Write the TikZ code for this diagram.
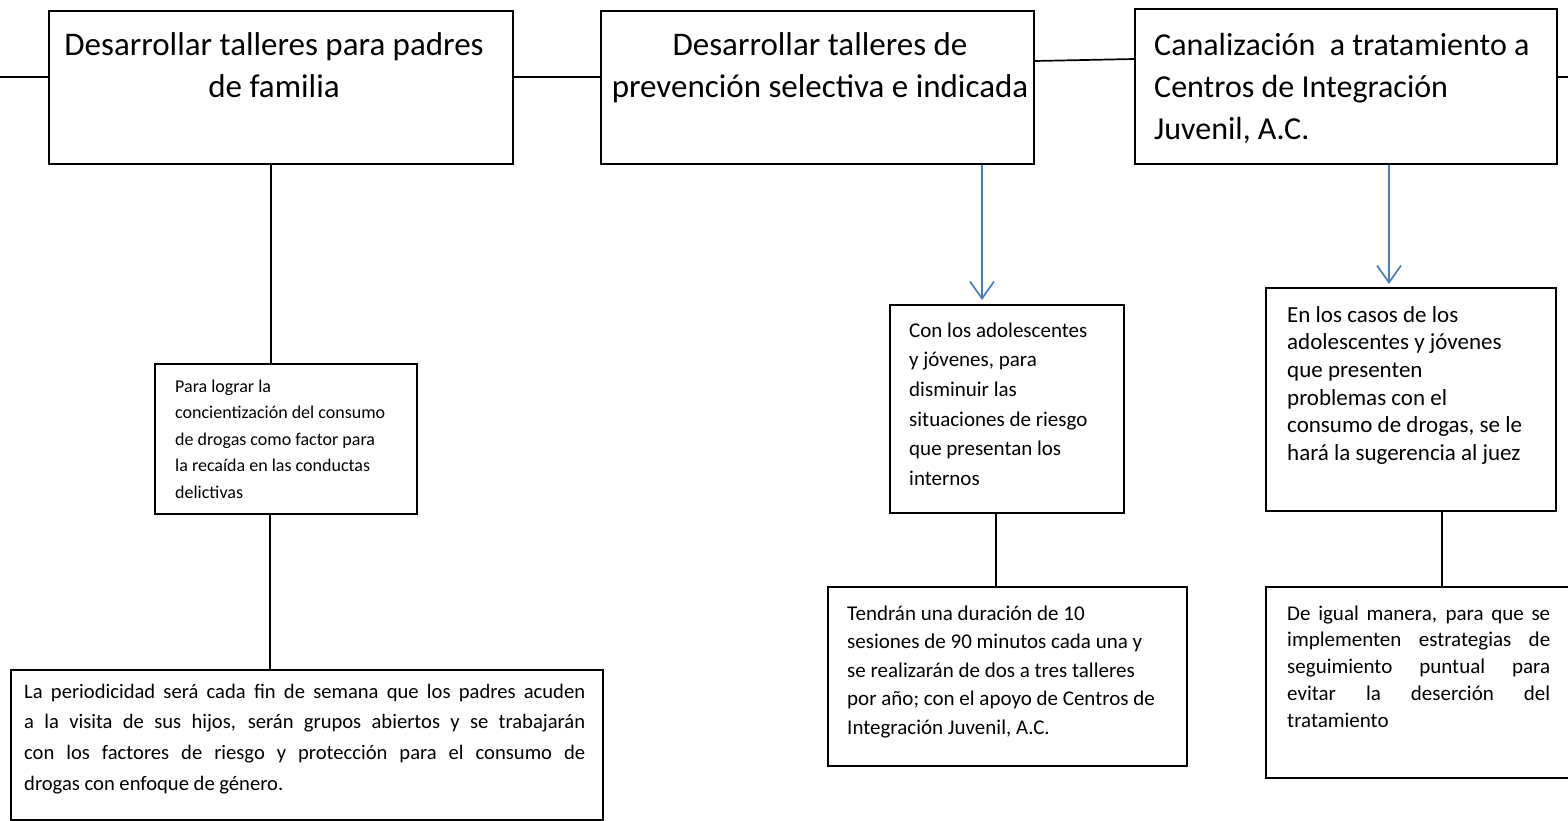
\documentclass[tikz,border=0pt]{standalone}
\usepackage{fontspec}
\setmainfont{Carlito}
\usetikzlibrary{arrows.meta}
\definecolor{arrowblue}{RGB}{74,126,187}
\begin{document}
\begin{tikzpicture}[x=1pt,y=-1pt,
  boxnode/.style={draw=black, line width=1.7pt, rectangle, inner sep=0pt, anchor=north west},
  conn/.style={draw=black, line width=1.7pt},
  thickconn/.style={draw=black, line width=2.6pt},
  blueconn/.style={draw=arrowblue, line width=1.7pt, -{Straight Barb[length=17pt,width=24pt,line width=1.7pt]}},
  txt/.style={inner sep=0pt, anchor=base west, align=flush left},
  titletxt/.style={inner sep=0pt, font={\fontsize{32}{42}\selectfont}},
  bigtitletxt/.style={inner sep=0pt, font={\fontsize{33}{42}\selectfont}},
]
\useasboundingbox (0,0) rectangle (1568,820);
\clip (0,0) rectangle (1568,820);

% top boxes
\node[boxnode, minimum width=464, minimum height=153] (A) at (48,10) {};
\node[boxnode, minimum width=433, minimum height=153] (B) at (600,10) {};
\node[boxnode, minimum width=422, minimum height=155] (C) at (1134,8) {};

\node[bigtitletxt, anchor=base, text width=455, align=flush center] (tA) at (274,55)
  {Desarrollar talleres para padres\\de familia};
\node[bigtitletxt, anchor=base, text width=430, align=flush center] (tB) at (820,55)
  {Desarrollar talleres de\\prevención selectiva e indicada};
\node[titletxt, anchor=base west, text width=395, align=flush left] (tC) at (1154,55)
  {Canalización\ \ a tratamiento a\\Centros de Integración\\Juvenil, A.C.};

% lower boxes
\node[boxnode, minimum width=262, minimum height=150] (D) at (154,363) {};
\node[boxnode, minimum width=592, minimum height=150] (E) at (10,669) {};
\node[boxnode, minimum width=234, minimum height=208] (F) at (889,304) {};
\node[boxnode, minimum width=359, minimum height=179] (G) at (827,586) {};
\node[boxnode, minimum width=290, minimum height=223] (H) at (1265,287) {};
\node[boxnode, minimum width=312, minimum height=191] (I) at (1265,586) {};

\node[txt, text width=235, font={\fontsize{18}{26.5}\selectfont}] (tD) at (175,392)
  {Para lograr la\\concientización del consumo\\de drogas como factor para\\la recaída en las conductas\\delictivas};
\node[txt, text width=561, align=justify, font={\fontsize{20.6}{30.8}\selectfont}] (tE) at (24,698)
  {La periodicidad será cada fin de semana que los padres acuden\linebreak
   a la visita de sus hijos, serán grupos abiertos y se trabajarán\linebreak
   con los factores de riesgo y protección para el consumo de\linebreak
   drogas con enfoque de género.};
\node[txt, text width=210, font={\fontsize{21}{29.7}\selectfont}] (tF) at (909,337)
  {Con los adolescentes\\y jóvenes, para\\disminuir las\\situaciones de riesgo\\que presentan los\\internos};
\node[txt, text width=335, font={\fontsize{21}{28.6}\selectfont}] (tG) at (847,620)
  {Tendrán una duración de 10\\sesiones de 90 minutos cada una y\\se realizarán de dos a tres talleres\\por año; con el apoyo de Centros de\\Integración Juvenil, A.C.};
\node[txt, text width=265, font={\fontsize{23}{27.7}\selectfont}] (tH) at (1287,322)
  {En los casos de los\\adolescentes y jóvenes\\que presenten\\problemas con el\\consumo de drogas, se le\\hará la sugerencia al juez};
\node[txt, text width=263, align=justify, font={\fontsize{21}{26.8}\selectfont}] (tI) at (1287,620)
  {De igual manera, para que se\linebreak
   implementen estrategias de\linebreak
   seguimiento puntual para\linebreak
   evitar la deserción del\linebreak
   tratamiento};

% horizontal connectors
\coordinate (leftend) at (0,77);
\coordinate (rightend) at (1568,77);
\draw[conn] (leftend) -- (leftend -| A.west);
\draw[conn] (A.east |- leftend) -- (B.west |- leftend);
\draw[conn] (B.east |- 0,61) -- (C.west |- 0,59);
\draw[conn] (C.east |- rightend) -- (rightend);

% vertical connectors
\coordinate (amid) at (271,252);
\draw[thickconn] (A.south -| amid) -- (amid);
\draw[conn] (amid) -- (D.north -| amid);
\draw[conn] (D.south -| 270,0) -- (E.north -| 270,0);
\draw[conn] (F.south -| 996,0) -- (G.north -| 996,0);
\draw[conn] (H.south -| 1442,0) -- (I.north -| 1442,0);

% blue arrows
\coordinate (tipF) at (982,300);
\coordinate (tipH) at (1389,284);
\draw[blueconn] (B.south -| tipF) -- (tipF);
\draw[blueconn] (C.south -| tipH) -- (tipH);
\end{tikzpicture}
\end{document}
